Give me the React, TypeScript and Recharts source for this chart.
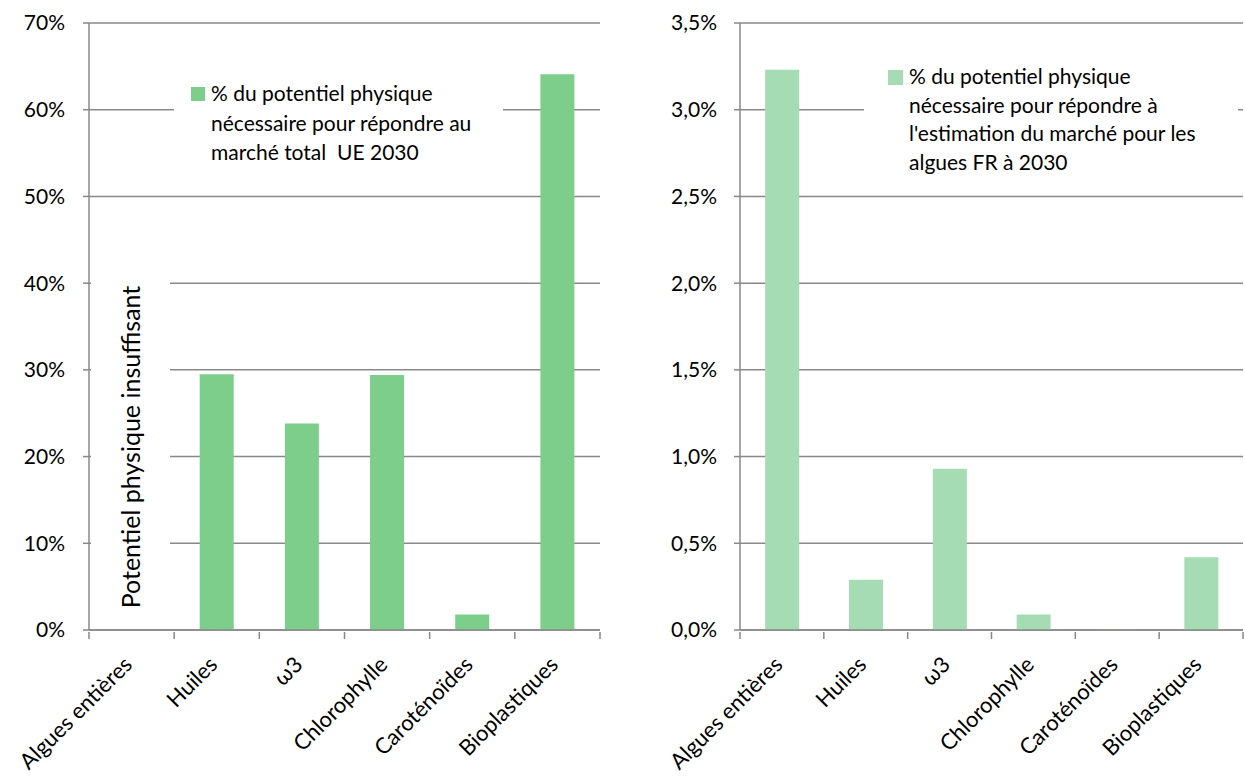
import React from 'react'
import { BarChart, Bar, XAxis, YAxis, CartesianGrid, Legend } from 'recharts'

const categories = ['Algues entières', 'Huiles', 'ω3', 'Chlorophylle', 'Caroténoïdes', 'Bioplastiques']
const euShare = [0, 0.295, 0.238, 0.294, 0.018, 0.641]
const frShare = [0.0323, 0.0029, 0.0093, 0.0009, 0.00003, 0.0042]
const euTicks = [0, 0.1, 0.2, 0.3, 0.4, 0.5, 0.6, 0.7]
const frTicks = [0, 0.005, 0.01, 0.015, 0.02, 0.025, 0.03, 0.035]

const euLegend = ['% du potentiel physique', 'nécessaire pour répondre au', 'marché total  UE 2030']
const frLegend = ['% du potentiel physique', 'nécessaire pour répondre à', "l'estimation du marché pour les", 'algues FR à 2030']
const noteText = 'Potentiel physique insuffisant'

const FONT = 'Lato, "Open Sans", sans-serif'
const GRID = '#898989'
const EU_COLOR = '#7dcd8b'
const FR_COLOR = '#a6dcb3'

const euData = categories.map((name, i) => ({ name, value: euShare[i] }))
const frData = categories.map((name, i) => ({ name, value: frShare[i] }))

function CategoryTick(props: any) {
    const { x, y, payload, index, visibleTicksCount } = props
    const off = payload.offset || 0
    const px = x + 2
    const py = y + 34
    return (
        <g>
            <line x1={x - off} y1={y} x2={x - off} y2={y + 7} stroke={GRID} strokeWidth={1.5} />
            {index === visibleTicksCount - 1 && (
                <line x1={x + off} y1={y} x2={x + off} y2={y + 7} stroke={GRID} strokeWidth={1.5} />
            )}
            <text
                x={px}
                y={py}
                textAnchor="end"
                fontSize={22}
                fontFamily={FONT}
                fill="#000"
                transform={`rotate(-45, ${px}, ${py})`}
            >
                {payload.value}
            </text>
        </g>
    )
}

function LegendBox({ lines, color, width, padLeft, lineHeight, sq }: { lines: string[], color: string, width: number, padLeft: number, lineHeight: number, sq: number }) {
    return (
        <div style={{ background: '#fff', width, boxSizing: 'border-box', display: 'flex', alignItems: 'flex-start', fontFamily: FONT, fontSize: 21, lineHeight: `${lineHeight}px`, color: '#000', padding: `6px 0 8px ${padLeft}px` }}>
            <span style={{ display: 'inline-block', width: sq, height: sq, background: color, marginTop: (lineHeight - sq) / 2 + 1, marginRight: 6, flex: 'none' }} />
            <span style={{ whiteSpace: 'pre' }}>
                {lines.map((l, i) => <div key={i}>{l}</div>)}
            </span>
        </div>
    )
}

const euFmt = (v: number) => `${Math.round(v * 100)}%`
const frFmt = (v: number) => `${(v * 100).toFixed(1).replace('.', ',')}%`

export default function App() {
    return (
        <div style={{ position: 'absolute', left: 0, top: 0, width: 1245, height: 783, background: '#fff' }}>
            <div style={{ position: 'absolute', left: 0, top: 0 }}>
                <BarChart width={620} height={783} data={euData} margin={{ top: 23, right: 20, left: 0, bottom: 3 }} barCategoryGap="30%">
                    <CartesianGrid horizontal vertical={false} stroke={GRID} strokeWidth={1.5} />
                    <XAxis dataKey="name" interval={0} height={150} axisLine={{ stroke: GRID, strokeWidth: 1.5 }} tickLine={false} tickSize={0} tick={<CategoryTick />} />
                    <YAxis width={89} domain={[0, 0.7]} ticks={euTicks} tickFormatter={euFmt} axisLine={{ stroke: GRID, strokeWidth: 1.5 }} tickLine={{ stroke: GRID, strokeWidth: 1.5 }} tickSize={6} tickMargin={18} tick={{ fill: '#000', fontSize: 21, fontFamily: FONT }} />
                    <Legend layout="horizontal" verticalAlign="middle" wrapperStyle={{ left: 174, top: 72, width: 329 }} content={() => <LegendBox lines={euLegend} color={EU_COLOR} width={329} padLeft={17} lineHeight={29.5} sq={14} />} />
                    <Bar dataKey="value" fill={EU_COLOR} isAnimationActive={false} />
                </BarChart>
                <div style={{ position: 'absolute', left: 91, top: 262, width: 79, height: 358, background: '#fff' }}>
                    <div style={{ position: 'absolute', left: 39, top: 185, transform: 'translate(-50%, -50%) rotate(-90deg)', whiteSpace: 'nowrap', fontFamily: FONT, fontSize: 25, color: '#000' }}>
                        {noteText}
                    </div>
                </div>
            </div>
            <div style={{ position: 'absolute', left: 630, top: 0 }}>
                <BarChart width={615} height={783} data={frData} margin={{ top: 23, right: 2, left: 0, bottom: 3 }} barCategoryGap="30%">
                    <CartesianGrid horizontal vertical={false} stroke={GRID} strokeWidth={1.5} />
                    <XAxis dataKey="name" interval={0} height={150} axisLine={{ stroke: GRID, strokeWidth: 1.5 }} tickLine={false} tickSize={0} tick={<CategoryTick />} />
                    <YAxis width={110} domain={[0, 0.035]} ticks={frTicks} tickFormatter={frFmt} axisLine={{ stroke: GRID, strokeWidth: 1.5 }} tickLine={{ stroke: GRID, strokeWidth: 1.5 }} tickSize={6} tickMargin={17} tick={{ fill: '#000', fontSize: 21, fontFamily: FONT }} />
                    <Legend layout="horizontal" verticalAlign="middle" wrapperStyle={{ left: 234, top: 56, width: 374 }} content={() => <LegendBox lines={frLegend} color={FR_COLOR} width={374} padLeft={24} lineHeight={28.5} sq={15} />} />
                    <Bar dataKey="value" fill={FR_COLOR} isAnimationActive={false} />
                </BarChart>
            </div>
        </div>
    )
}
